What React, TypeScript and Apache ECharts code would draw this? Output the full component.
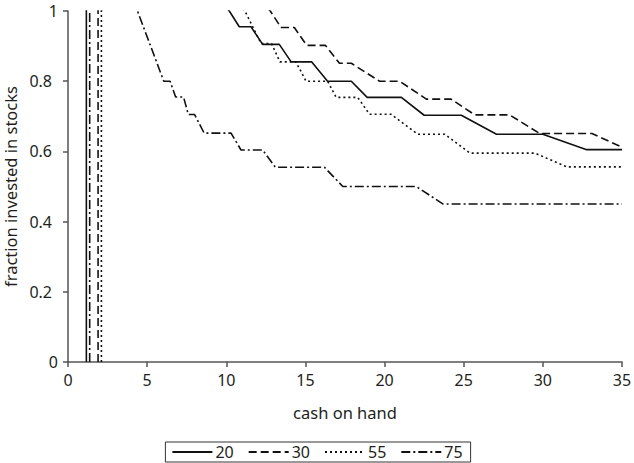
import React, { useEffect, useRef } from "react";
import * as echarts from "echarts";

// Policy curves: fraction of wealth held in stocks vs. cash on hand.
// Points above 1 lie off the top of the plot and are clipped by the grid.
const seriesNames = ["20", "30", "55", "75"];

const s20: [number, number][] = [
  [1.16, 0], [1.16, 1.5], [10.19, 1.0], [10.82, 0.955], [11.56, 0.955],
  [12.3, 0.905], [13.35, 0.905], [14.1, 0.855], [15.4, 0.855], [16.4, 0.8],
  [17.9, 0.8], [18.9, 0.754], [21.06, 0.754], [22.5, 0.703], [24.85, 0.703],
  [27.07, 0.649], [30.0, 0.649], [32.77, 0.605], [35, 0.605],
];

const s30: [number, number][] = [
  [1.9, 0], [1.9, 1.5], [12.78, 1.0], [13.46, 0.953], [14.3, 0.953],
  [15.08, 0.902], [16.27, 0.902], [17.15, 0.851], [17.9, 0.851], [19.68, 0.8],
  [20.95, 0.8], [22.64, 0.749], [24.2, 0.749], [25.7, 0.704], [27.9, 0.704],
  [29.8, 0.651], [33.1, 0.651], [35, 0.612],
];

const s55: [number, number][] = [
  [2.11, 0], [2.11, 1.5], [11.18, 1.0], [12.2, 0.907], [12.86, 0.907],
  [13.39, 0.855], [14.4, 0.855], [15.04, 0.8], [16.4, 0.8], [16.94, 0.754],
  [18.3, 0.754], [19.05, 0.706], [20.4, 0.706], [22.1, 0.649], [23.8, 0.649],
  [25.4, 0.595], [29.5, 0.595], [31.5, 0.556], [35, 0.556],
];

const s75: [number, number][] = [
  [1.37, 0], [1.37, 1.5], [4.39, 1.0], [6.05, 0.8], [6.45, 0.8],
  [6.8, 0.755], [7.3, 0.755], [7.6, 0.705], [8.0, 0.705], [8.6, 0.652],
  [10.3, 0.652], [10.93, 0.604], [12.3, 0.604], [13.1, 0.555], [16.2, 0.555],
  [17.36, 0.5], [22.0, 0.5], [23.7, 0.45], [35, 0.45],
];

const seriesData = [s20, s30, s55, s75];
const dashTypes: (string | number[])[] = ["solid", [8, 4], [2, 3], [9, 3, 2, 3]];

const xTicks = [0, 5, 10, 15, 20, 25, 30, 35];
const yTicks = [0, 0.2, 0.4, 0.6, 0.8, 1];

const FONT = "Noto Sans";
const INK = "#231f20";

export default function App() {
  const ref = useRef<HTMLDivElement>(null);

  useEffect(() => {
    if (!ref.current) return;
    const chart = echarts.init(ref.current, undefined, { renderer: "svg" });
    const axisLine = { show: true, lineStyle: { color: "#555", width: 1.5 } };
    const axisTick = { show: true, length: 5, lineStyle: { color: "#555", width: 1.5 } };
    chart.setOption({
      animation: false,
      backgroundColor: "#fff",
      textStyle: { fontFamily: FONT, color: INK },
      grid: {
        left: 68,
        right: 12,
        top: 11,
        bottom: 101,
        containLabel: false,
        outerBoundsMode: "none",
      },
      xAxis: {
        type: "value",
        min: xTicks[0],
        max: xTicks[xTicks.length - 1],
        interval: 5,
        name: "cash on hand",
        nameLocation: "middle",
        nameGap: 42,
        nameTextStyle: { fontSize: 16.5, color: INK, fontFamily: FONT },
        axisLine,
        axisTick,
        splitLine: { show: false },
        axisLabel: { fontSize: 16, color: INK, margin: 10, fontFamily: FONT },
      },
      yAxis: {
        type: "value",
        min: yTicks[0],
        max: yTicks[yTicks.length - 1],
        interval: 0.2,
        name: "fraction invested in stocks",
        nameLocation: "middle",
        nameGap: 45,
        nameTextStyle: { fontSize: 16.5, color: INK, fontFamily: FONT },
        axisLine,
        axisTick,
        splitLine: { show: false },
        axisLabel: {
          fontSize: 16,
          color: INK,
          margin: 10,
          fontFamily: FONT,
          formatter: (v: number) => {
            const s = String(Math.round(v * 10) / 10);
            return s.length > 1 ? `{d|${s}}` : `{i|${s}}`;
          },
          rich: {
            d: { fontSize: 16, color: INK, fontFamily: FONT, padding: [0, 6, 0, 0] },
            i: { fontSize: 16, color: INK, fontFamily: FONT, padding: [0, 0, 0, 0] },
          },
        },
      },
      legend: {
        bottom: 1,
        left: "center",
        orient: "horizontal",
        data: seriesNames,
        borderColor: "#333",
        borderWidth: 1,
        padding: [2, 8, 2, 6],
        itemGap: 14,
        itemWidth: 40,
        itemHeight: 12,
        itemStyle: { opacity: 0 },
        textStyle: { fontSize: 16, color: INK, fontFamily: FONT, padding: [0, 0, 0, -2] },
      },
      series: seriesNames.map((name, i) => ({
        name,
        type: "line",
        data: seriesData[i],
        showSymbol: false,
        symbol: "none",
        clip: true,
        lineStyle: { color: "#111", width: 1.6, type: dashTypes[i] },
        itemStyle: { color: "#111" },
      })),
    });
    return () => chart.dispose();
  }, []);

  return (
    <div
      ref={ref}
      style={{ position: "absolute", left: 0, top: 0, width: 634, height: 463 }}
    />
  );
}
